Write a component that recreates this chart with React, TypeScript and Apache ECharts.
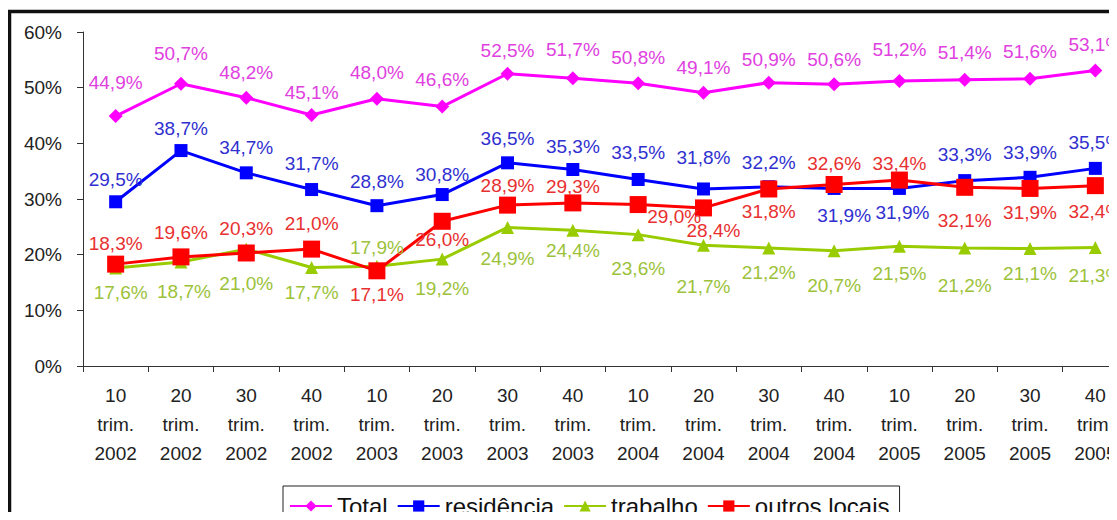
import React, { useEffect, useRef } from 'react';
import * as echarts from 'echarts';

const categories = [
  '10\ntrim.\n2002', '20\ntrim.\n2002', '30\ntrim.\n2002', '40\ntrim.\n2002',
  '10\ntrim.\n2003', '20\ntrim.\n2003', '30\ntrim.\n2003', '40\ntrim.\n2003',
  '10\ntrim.\n2004', '20\ntrim.\n2004', '30\ntrim.\n2004', '40\ntrim.\n2004',
  '10\ntrim.\n2005', '20\ntrim.\n2005', '30\ntrim.\n2005', '40\ntrim.\n2005',
];

const total = [44.9, 50.7, 48.2, 45.1, 48.0, 46.6, 52.5, 51.7, 50.8, 49.1, 50.9, 50.6, 51.2, 51.4, 51.6, 53.1];
const residencia = [29.5, 38.7, 34.7, 31.7, 28.8, 30.8, 36.5, 35.3, 33.5, 31.8, 32.2, 31.9, 31.9, 33.3, 33.9, 35.5];
const trabalho = [17.6, 18.7, 21.0, 17.7, 17.9, 19.2, 24.9, 24.4, 23.6, 21.7, 21.2, 20.7, 21.5, 21.2, 21.1, 21.3];
const outros = [18.3, 19.6, 20.3, 21.0, 17.1, 26.0, 28.9, 29.3, 29.0, 28.4, 31.8, 32.6, 33.4, 32.1, 31.9, 32.4];

const yMin = 0;
const yMax = 60;
const yStep = 10;

// label placement (pixel offsets of label centre from the point)
const totalLabelDy = [-34, -30, -25, -22, -26, -27, -23, -29, -26, -25, -23, -25, -31, -27, -27, -26];
const residenciaLabelDy = [-22, -22, -25, -26, -24, -20, -24, -23, -27, -31, -24, 27, 24, -26, -25, -26];
const residenciaLabelDx = [0, 0, 0, 0, 0, 0, 0, 0, 0, 0, 0, 10, 3, 0, 0, 0];
const trabalhoLabelDy = [24, 30, 34, 25, -19, 29, 31, 20, 34, 41, 25, 35, 27, 38, 25, 28];
const trabalhoLabelDx = [5, 3, 0, 0, 0, 0, 0, 0, 0, 0, 0, 0, 0, 0, 0, 0];
const outrosLabelDy = [-21, -24, -24, -26, 24, 18, -20, -16, 12, 23, 23, -21, -17, 33, 24, 26];
const outrosLabelDx = [0, 0, 0, 0, 0, 0, 0, 0, 36, 10, 0, 0, 0, 0, 0, 0];

const FONT = 'Liberation Sans, Arial, sans-serif';

function fmt(p: any) {
  return Number(p.value).toFixed(1).replace('.', ',') + '%';
}

function build(values: number[], dy: number[], dx?: number[]) {
  return values.map((v, i) => ({
    value: v,
    label: { offset: [dx ? dx[i] : 0, dy[i]] },
  }));
}

function lineSeries(name: string, values: number[], color: string, labelColor: string, symbol: string, size: number, dy: number[], dx?: number[]) {
  return {
    name,
    type: 'line',
    data: build(values, dy, dx),
    symbol,
    symbolSize: size,
    lineStyle: { color, width: 3 },
    itemStyle: { color },
    emphasis: { disabled: true },
    label: {
      show: true,
      position: 'inside',
      color: labelColor,
      fontSize: 19,
      fontFamily: FONT,
      textBorderWidth: 0,
      formatter: fmt,
    },
  };
}

export default function App() {
  const ref = useRef<HTMLDivElement>(null);
  useEffect(() => {
    if (!ref.current) return;
    const chart = echarts.init(ref.current, undefined, { renderer: 'svg' });
    chart.setOption({
      animation: false,
      backgroundColor: '#ffffff',
      graphic: [
        {
          type: 'rect',
          shape: { x: 1.5, y: 3.5, width: 1400, height: 800 },
          style: { stroke: '#111', lineWidth: 3.5, fill: 'none' },
          silent: true,
        },
      ],
      grid: { left: 75, top: 24, width: 1045, height: 334 },
      legend: {
        data: ['Total', 'residência', 'trabalho', 'outros locais'],
        left: 275,
        top: 478,
        itemWidth: 42,
        itemHeight: 14,
        itemGap: 9,
        borderColor: '#222',
        borderWidth: 1,
        padding: [8, 10, 30, 6],
        textStyle: { fontSize: 24, color: '#111', fontFamily: FONT },
      },
      xAxis: {
        type: 'category',
        data: categories,
        boundaryGap: true,
        axisLine: { lineStyle: { color: '#333', width: 1 } },
        axisTick: { show: true, length: 6, lineStyle: { color: '#333' } },
        axisLabel: {
          interval: 0,
          fontSize: 19,
          lineHeight: 29,
          margin: 15,
          color: '#222',
          fontFamily: FONT,
        },
      },
      yAxis: {
        type: 'value',
        min: yMin,
        max: yMax,
        interval: yStep,
        axisLine: { show: true, lineStyle: { color: '#333', width: 1 } },
        axisTick: { show: true, length: 6, lineStyle: { color: '#333' } },
        splitLine: { show: false },
        axisLabel: {
          formatter: '{value}%',
          fontSize: 19,
          margin: 21,
          color: '#222',
          fontFamily: FONT,
        },
      },
      series: [
        lineSeries('Total', total, '#FF00FF', '#E040E0', 'diamond', 14, totalLabelDy),
        lineSeries('residência', residencia, '#0000FF', '#3030D0', 'rect', 13, residenciaLabelDy, residenciaLabelDx),
        lineSeries('trabalho', trabalho, '#99CC00', '#9CC23A', 'triangle', 13, trabalhoLabelDy, trabalhoLabelDx),
        lineSeries('outros locais', outros, '#FF0000', '#E83030', 'rect', 17, outrosLabelDy, outrosLabelDx),
      ],
    });
    return () => chart.dispose();
  }, []);
  return (
    <div style={{ position: 'relative', width: 1109, height: 512, marginBottom: -8, overflow: 'hidden' }}>
      <div ref={ref} style={{ position: 'absolute', left: 0, top: 0, width: 1140, height: 512 }} />
    </div>
  );
}
